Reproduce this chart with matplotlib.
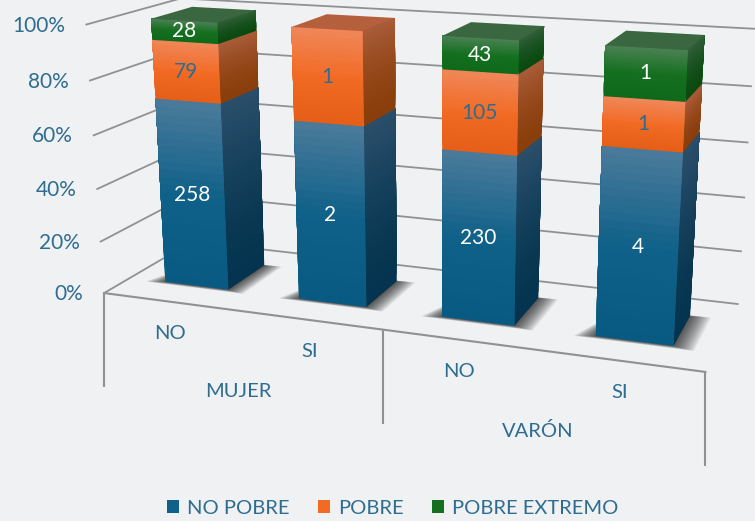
# 3D style stacked percent columns, drawn on a plain axes with a small camera matrix
import numpy as np
import matplotlib
matplotlib.use("Agg")
from matplotlib import pyplot as plt
from matplotlib.colors import to_rgb
from matplotlib.patches import Patch

plt.rcParams["font.family"] = ["Lato", "DejaVu Sans"]

# Data
groups = ["MUJER", "VARÓN"]
answers = ["NO", "SI", "NO", "SI"]
series = ["NO POBRE", "POBRE", "POBRE EXTREMO"]
no_pobre = [258, 2, 230, 4]
pobre = [79, 1, 105, 1]
pobre_extremo = [28, 0, 43, 1]
ticks = [0, 20, 40, 60, 80, 100]

# Colours: (front bottom, front middle, front top, side bottom, side top, top face)
blue = ["#095a82", "#106189", "#4b7b9b", "#04344f", "#2b4f6b", "#3a6a8a"]
orange = ["#e45e17", "#f26b25", "#f0875a", "#8a3e0b", "#a95c38", "#b5603c"]
green = ["#0e691b", "#14701f", "#4b8154", "#0a4a10", "#305f38", "#3a6640"]
palette = [blue, orange, green]
text_blue = "#2f6d90"
line_grey = "#8f9193"
bg = "#eff1f3"

# Camera: box corners (category, depth, percent) against where they sit in the picture
world = [(0, 0, 0), (4, 0, 0), (4, 1, 0), (0, 1, 0), (0, 0, 100), (4, 1, 100), (0, 1, 100),
         (2, 0, 0), (0, 0, 20), (0, 0, 60), (4, 1, 60)]
image = [(104, 293), (705, 372), (738, 304), (193, 241), (87, 24), (755, 29), (180, -1),
         (383, 330), (100, 242), (94, 135), (747, 142)]
rows = []
for (X, Y, Z), (u, v) in zip(world, image):
    rows.append([X, Y, Z, 1, 0, 0, 0, 0, -u * X, -u * Y, -u * Z, -u])
    rows.append([0, 0, 0, 0, X, Y, Z, 1, -v * X, -v * Y, -v * Z, -v])
cam = np.linalg.svd(np.array(rows, dtype=float))[2][-1].reshape(3, 4)


def proj(x, y, z):
    p = cam @ np.array([x, y, z, 1.0])
    return p[0] / p[2], p[1] / p[2]


def face(ax, pts, color, **kw):
    xy = [proj(*p) for p in pts]
    ax.fill(*zip(*xy), color=color, lw=0, **kw)


def mix(c0, c1, t):
    return tuple(np.array(to_rgb(c0)) * (1 - t) + np.array(to_rgb(c1)) * t)


fig = plt.figure(figsize=(7.55, 5.21), dpi=100, facecolor=bg)
ax = fig.add_axes([0, 0, 1, 1])
ax.set_xlim(0, 755)
ax.set_ylim(521, 0)
ax.axis("off")

# Walls
for t in ticks:
    ax.plot(*zip(proj(0, 0, t), proj(0, 1, t), proj(4, 1, t)), color=line_grey, lw=1.3,
            solid_joinstyle="miter", zorder=0.5)
    px, py = proj(0, 0, t)
    ax.text(px - 21, py + 1, "%d%%" % t, ha="right", va="center", fontsize=15, color=text_blue)

# Floor edge and the category dividers
ax.plot(*zip(proj(0, 0, 0), proj(4, 0, 0)), color=line_grey, lw=1.5, zorder=0.5)
for x in [0, 2, 4]:
    px, py = proj(x, 0, 0)
    ax.plot([px, px], [py, py + 93], color=line_grey, lw=1.5, zorder=0.5)

# Category labels
for i, a in enumerate(answers):
    px, py = proj(i + 0.5, 0, 0)
    ax.text(px, py + 32, a, ha="center", va="center", fontsize=14.5, color=text_blue)
for i, g in enumerate(groups):
    px, py = proj(2 * i + 1, 0, 0)
    ax.text(px, py + 81, g, ha="center", va="center", fontsize=14.5, color=text_blue)

width = 0.48
center = 0.51
y0, y1 = 0.28, 0.73
strips = 24

for i in range(4):
    x0, x1 = i + center - width / 2, i + center + width / 2

    # Soft shadow on the floor, mostly around the front and right of the base
    for e in np.linspace(0.13, 0.0, 16):
        face(ax, [(x0 - e, y0 - e * 0.25, 0), (x1 + e, y0 - e * 0.25, 0),
                  (x1 + e, y1 + e * 0.1, 0), (x0 + 0.05, y1, 0)], "#000000", alpha=0.06)

    total = no_pobre[i] + pobre[i] + pobre_extremo[i]
    base = 0.0
    top_color = None
    for counts, c, s in zip([no_pobre, pobre, pobre_extremo], palette, range(3)):
        v = counts[i]
        if v == 0:
            continue
        h = 100.0 * v / total
        zs = np.linspace(base, base + h, strips + 1)
        # each strip runs up to the segment top, the next one paints over it, so no seams
        for k in range(strips):
            t = (k + 0.5) / strips
            if t < 0.5:
                front = mix(c[0], c[1], t * 2)
            else:
                front = mix(c[1], c[2], (t - 0.5) * 2)
            side = mix(c[3], c[4], t ** 1.6)
            face(ax, [(x1, y0, zs[k]), (x1, y1, zs[k]), (x1, y1, zs[-1]), (x1, y0, zs[-1])], side)
            face(ax, [(x0, y0, zs[k]), (x1, y0, zs[k]), (x1, y0, zs[-1]), (x0, y0, zs[-1])], front)
        px, py = proj(i + center, y0, base + h / 2)
        ax.text(px, py, str(v), ha="center", va="center", fontsize=15,
                color=text_blue if s == 1 else "white")
        base += h
        top_color = c[5]
    face(ax, [(x0, y0, 100), (x1, y0, 100), (x1, y1, 100), (x0, y1, 100)], top_color)

# Legend
handles = [Patch(facecolor=c[1], edgecolor="none") for c in palette]
ax.legend(handles, series, loc="center", bbox_to_anchor=(393 / 755, 1 - 508 / 521), ncol=3, frameon=False,
          fontsize=14.5, labelcolor=text_blue, handlelength=0.6, handleheight=0.6,
          handletextpad=0.4, columnspacing=1.4, borderpad=0)

fig.savefig("out.png", dpi=100, facecolor=bg)
